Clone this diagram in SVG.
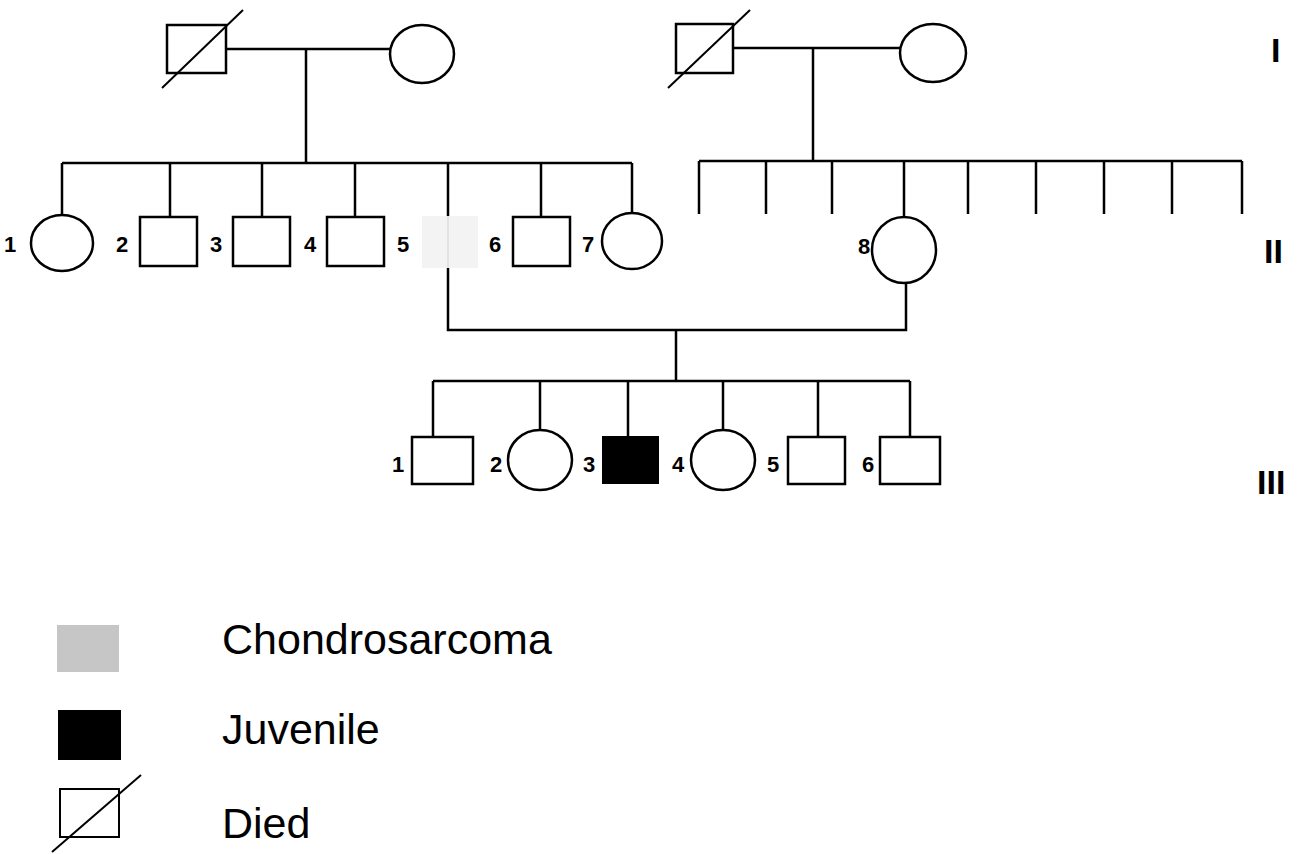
<svg xmlns="http://www.w3.org/2000/svg" width="1300" height="854" viewBox="0 0 1300 854">
<style>
.n{fill:#fff;stroke:#000;stroke-width:2.5}
.l{fill:none;stroke:#000;stroke-width:2.5}
.d{stroke:#000;stroke-width:2}
.lb{font-family:"Liberation Sans",Arial,sans-serif;font-weight:bold;font-size:22px;fill:#000}
.g{font-family:"Liberation Sans",Arial,sans-serif;font-weight:bold;font-size:34px;fill:#000}
.t{font-family:"Liberation Sans",Arial,sans-serif;font-size:43px;fill:#000}
</style>
<rect width="1300" height="854" fill="#fff"/>
<g id="connectors" class="l">
<path d="M226 49H391M306 49V163M62 163H632M62 163V215M170 163V217M262 163V217M355 163V217M448 163V216M541 163V217M632 163V213"/>
<path d="M733 48H900M813 48V161M699 161H1242M699 161V214M766 161V214M832 161V214M904 161V217M968 161V214M1036 161V214M1104 161V214M1172 161V214M1242 161V214"/>
<path d="M448 268V330H906V283M676 330V381M433 381H910M433 381V437M540 381V430M628 381V437M723 381V430M818 381V437M910 381V437"/>
</g>
<g id="I-1"><rect class="n" x="167" y="25" width="59" height="48"/><line class="d" x1="162" y1="88" x2="243" y2="10"/></g>
<g id="I-2"><ellipse class="n" cx="422" cy="54" rx="32" ry="29"/></g>
<g id="I-3"><rect class="n" x="676" y="24" width="57" height="49"/><line class="d" x1="668" y1="88" x2="750" y2="10"/></g>
<g id="I-4"><ellipse class="n" cx="933" cy="53" rx="33" ry="29"/></g>
<g id="II-1"><ellipse class="n" cx="62" cy="243" rx="31" ry="28"/><text class="lb" x="4" y="252">1</text></g>
<g id="II-2"><rect class="n" x="140" y="217" width="57" height="49"/><text class="lb" x="116" y="252">2</text></g>
<g id="II-3"><rect class="n" x="233" y="217" width="57" height="49"/><text class="lb" x="210" y="252">3</text></g>
<g id="II-4"><rect class="n" x="327" y="217" width="57" height="49"/><text class="lb" x="304" y="252">4</text></g>
<g id="II-5"><rect x="422" y="216" width="56" height="52" fill="#f3f3f3"/><line x1="448" y1="216" x2="448" y2="268" stroke="#e2e2e2" stroke-width="2"/><text class="lb" x="397" y="252">5</text></g>
<g id="II-6"><rect class="n" x="513" y="217" width="57" height="49"/><text class="lb" x="489" y="252">6</text></g>
<g id="II-7"><ellipse class="n" cx="632" cy="241" rx="30" ry="28"/><text class="lb" x="582" y="252">7</text></g>
<g id="II-8"><ellipse class="n" cx="904" cy="250" rx="32" ry="33"/><text class="lb" x="858" y="254">8</text></g>
<g id="III-1"><rect class="n" x="412" y="437" width="61" height="47"/><text class="lb" x="392" y="472">1</text></g>
<g id="III-2"><ellipse class="n" cx="540" cy="460" rx="32" ry="30"/><text class="lb" x="490" y="472">2</text></g>
<g id="III-3"><rect x="603" y="437" width="55" height="46" fill="#000" stroke="#000" stroke-width="2"/><text class="lb" x="583" y="472">3</text></g>
<g id="III-4"><ellipse class="n" cx="723" cy="460" rx="32" ry="30"/><text class="lb" x="672" y="472">4</text></g>
<g id="III-5"><rect class="n" x="788" y="437" width="57" height="47"/><text class="lb" x="767" y="472">5</text></g>
<g id="III-6"><rect class="n" x="880" y="437" width="60" height="47"/><text class="lb" x="862" y="472">6</text></g>
<g id="generations">
<text class="g" x="1271" y="62">I</text>
<text class="g" x="1264" y="263">II</text>
<text class="g" x="1257" y="494">III</text>
</g>
<g id="legend">
<rect x="57" y="625" width="62" height="47" fill="#c6c6c6"/>
<text class="t" x="222" y="654">Chondrosarcoma</text>
<rect x="58" y="710" width="63" height="50" fill="#000"/>
<text class="t" x="222" y="744">Juvenile</text>
<rect x="60" y="789" width="59" height="48" fill="#fff" stroke="#000" stroke-width="2"/>
<line x1="52" y1="852" x2="141" y2="775" stroke="#000" stroke-width="2"/>
<text class="t" x="222" y="838">Died</text>
</g>
</svg>
